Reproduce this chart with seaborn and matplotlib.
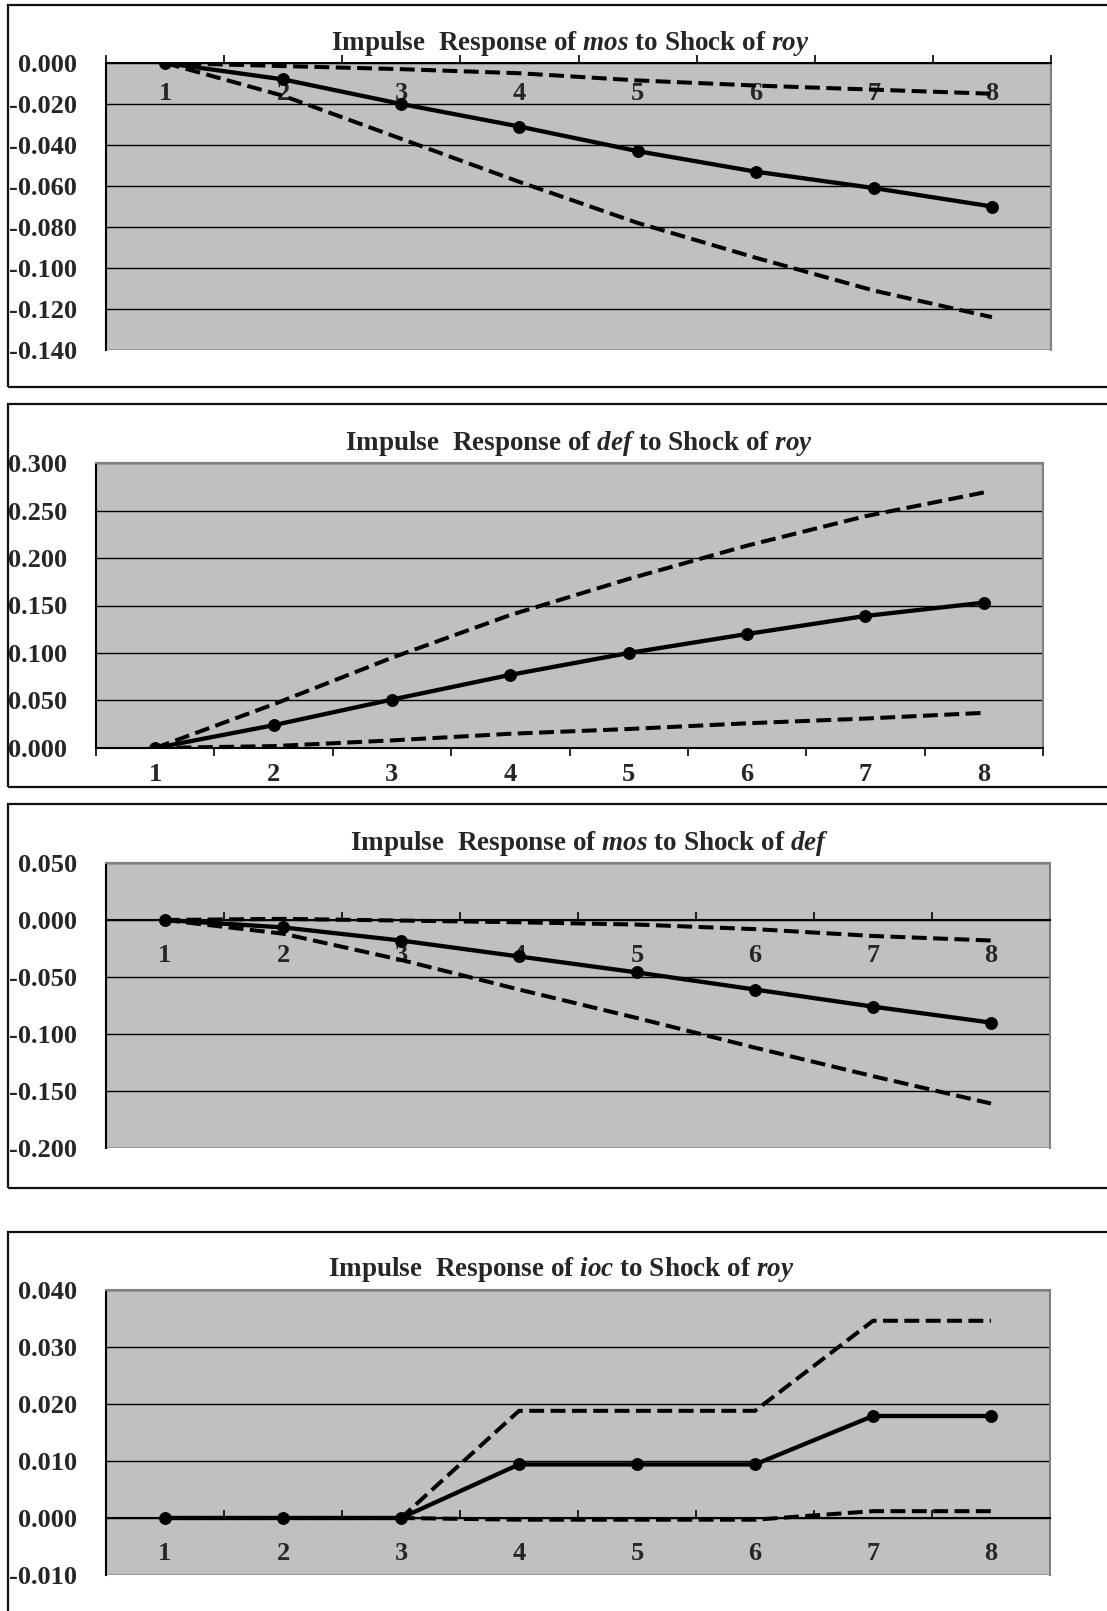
import matplotlib
matplotlib.use("Agg")
import matplotlib.pyplot as plt
from matplotlib.patches import Rectangle
from matplotlib.ticker import FixedLocator, FormatStrFormatter
import seaborn as sns

sns.set_style("white")
plt.rcParams["font.family"] = ["Liberation Serif", "DejaVu Serif"]
plt.rcParams["font.weight"] = "bold"
plt.rcParams["axes.unicode_minus"] = False
plt.rcParams["mathtext.fontset"] = "custom"
plt.rcParams["mathtext.rm"] = "Liberation Serif:bold"
plt.rcParams["mathtext.it"] = "Liberation Serif:italic:bold"
plt.rcParams["mathtext.bfit"] = "Liberation Serif:italic:bold"

W, H = 1107, 1611

periods = [1, 2, 3, 4, 5, 6, 7, 8]

# mos <- roy
mos_roy = [0.000, -0.008, -0.020, -0.031, -0.043, -0.053, -0.061, -0.070]
mos_roy_hi = [0.000, -0.0015, -0.003, -0.005, -0.0085, -0.011, -0.013, -0.015]
mos_roy_lo = [0.000, -0.016, -0.037, -0.058, -0.078, -0.095, -0.111, -0.124]

# def <- roy
def_roy = [0.000, 0.024, 0.051, 0.077, 0.100, 0.120, 0.139, 0.153]
def_roy_hi = [0.000, 0.046, 0.095, 0.140, 0.178, 0.213, 0.244, 0.269]
def_roy_lo = [0.000, 0.002, 0.008, 0.015, 0.020, 0.026, 0.031, 0.037]

# mos <- def
mos_def = [0.000, -0.0065, -0.018, -0.032, -0.046, -0.061, -0.076, -0.090]
mos_def_hi = [0.000, 0.001, -0.0005, -0.002, -0.004, -0.008, -0.014, -0.018]
mos_def_lo = [0.000, -0.012, -0.035, -0.061, -0.086, -0.112, -0.137, -0.161]

# ioc <- roy
ioc_roy = [0.000, 0.000, 0.000, 0.0094, 0.0094, 0.0094, 0.0179, 0.0179]
ioc_roy_hi = [0.000, 0.000, 0.000, 0.0188, 0.0188, 0.0188, 0.0346, 0.0346]
ioc_roy_lo = [0.000, 0.000, 0.000, -0.0003, -0.0003, -0.0003, 0.0012, 0.0012]

titles = [
    r"Impulse  Response of $\mathbfit{mos}$ to Shock of $\mathbfit{roy}$",
    r"Impulse  Response of $\mathbfit{def}$ to Shock of $\mathbfit{roy}$",
    r"Impulse  Response of $\mathbfit{mos}$ to Shock of $\mathbfit{def}$",
    r"Impulse  Response of $\mathbfit{ioc}$ to Shock of $\mathbfit{roy}$",
]
yticks = [
    [0.000, -0.020, -0.040, -0.060, -0.080, -0.100, -0.120, -0.140],
    [0.000, 0.050, 0.100, 0.150, 0.200, 0.250, 0.300],
    [0.050, 0.000, -0.050, -0.100, -0.150, -0.200],
    [0.040, 0.030, 0.020, 0.010, 0.000, -0.010],
]
series = [
    (mos_roy, mos_roy_hi, mos_roy_lo),
    (def_roy, def_roy_hi, def_roy_lo),
    (mos_def, mos_def_hi, mos_def_lo),
    (ioc_roy, ioc_roy_hi, ioc_roy_lo),
]

# layout in pixels: plot area (left, top, right, bottom), frame (left, top, right, bottom),
# title (x center, baseline), x-label pad, tick direction
layout = [
    dict(ax=(106, 63, 1051, 350), box=(8, 5, 1130, 387), title=(570, 50), xpad=14, tdir="in"),
    dict(ax=(96, 463, 1043, 748), box=(8, 404, 1130, 787), title=(579, 450), xpad=11, tdir="out"),
    dict(ax=(106, 863, 1050, 1148), box=(8, 804, 1130, 1188), title=(589, 850), xpad=17, tdir="in"),
    dict(ax=(106, 1290, 1050, 1575), box=(8, 1232, 1130, 1640), title=(561, 1276), xpad=17, tdir="in"),
]

fig = plt.figure(figsize=(W / 100, H / 100), dpi=100)

for (resp, hi, lo), title, yt, lay in zip(series, titles, yticks, layout):
    l, t, r, b = lay["ax"]
    ax = fig.add_axes([l / W, 1 - b / H, (r - l) / W, (b - t) / H])
    ax.set_facecolor("#C0C0C0")
    ax.set_axisbelow(True)

    for band in (hi, lo):
        sns.lineplot(x=periods, y=band, ax=ax, color="black", linewidth=2.9,
                     linestyle=(0, (3.7, 1.6)))
    sns.lineplot(x=periods, y=resp, ax=ax, color="black", linewidth=3.1,
                 marker="o", markersize=8.5, markeredgecolor="black")

    ax.set_xlim(0.5, 8.5)
    ax.set_ylim(min(yt), max(yt))
    ax.yaxis.set_major_locator(FixedLocator(yt))
    ax.yaxis.set_major_formatter(FormatStrFormatter("%.3f"))
    ax.grid(axis="y", color="black", linewidth=1.0)
    ax.grid(axis="x", visible=False)

    ax.xaxis.set_major_locator(FixedLocator(periods))
    ax.xaxis.set_minor_locator(FixedLocator([p + 0.5 for p in [0] + periods]))
    ax.set_xticklabels([str(p) for p in periods])
    ax.tick_params(axis="x", which="major", length=0, pad=lay["xpad"], labelsize=19)
    ax.tick_params(axis="x", which="minor", length=6, width=1.2, color="black",
                   direction=lay["tdir"], bottom=True)
    ax.tick_params(axis="y", which="major", length=0, pad=21, labelsize=19)
    ax.set_xlabel("")
    ax.set_ylabel("")

    ax.spines["bottom"].set_position(("data", 0))
    ax.spines["bottom"].set_color("black")
    ax.spines["bottom"].set_linewidth(1.5)
    ax.spines["left"].set_color("black")
    ax.spines["left"].set_linewidth(1.5)
    for side in ("top", "right"):
        ax.spines[side].set_color("#808080")
        ax.spines[side].set_linewidth(1.5)
    if max(yt) == 0:
        ax.spines["top"].set_visible(False)

    bl, bt, br, bb = lay["box"]
    box = Rectangle((bl / W, 1 - bb / H), (br - bl) / W, (bb - bt) / H,
                    transform=fig.transFigure, fill=False, edgecolor="#111111",
                    linewidth=1.6, zorder=5)
    fig.add_artist(box)
    for lab in ax.get_xticklabels():
        lab.set_clip_path(box)

    tx, ty = lay["title"]
    fig.text(tx / W, 1 - ty / H, title, ha="center", va="baseline",
             fontsize=19.5, fontweight="bold")

fig.savefig("out.png", dpi=100, facecolor="white")
